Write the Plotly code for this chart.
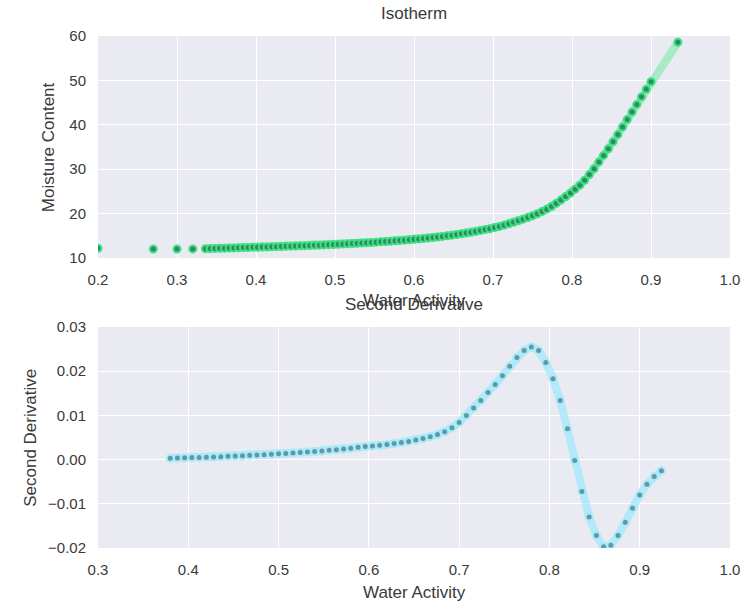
import plotly.graph_objects as go

# ---- Isotherm data (water activity vs moisture content) ----
iso_aw = [0.200, 0.270, 0.300, 0.320,
          0.336, 0.342, 0.348, 0.354, 0.360, 0.366, 0.372, 0.378, 0.384, 0.390,
          0.396, 0.402, 0.408, 0.414, 0.420, 0.426, 0.432, 0.438, 0.444, 0.450,
          0.456, 0.462, 0.468, 0.474, 0.480, 0.486, 0.492, 0.498, 0.504, 0.510,
          0.516, 0.522, 0.528, 0.534, 0.540, 0.546, 0.552, 0.558, 0.564, 0.570,
          0.576, 0.582, 0.588, 0.594, 0.600, 0.606, 0.612, 0.618, 0.624, 0.630,
          0.636, 0.642, 0.648, 0.654, 0.660, 0.666, 0.672, 0.678, 0.684, 0.690,
          0.696, 0.702, 0.708, 0.714, 0.720, 0.726, 0.732, 0.738, 0.744, 0.750,
          0.756, 0.762, 0.768, 0.774, 0.780, 0.786, 0.792, 0.798, 0.804, 0.810,
          0.816, 0.822, 0.828, 0.834, 0.840, 0.846, 0.852, 0.858, 0.864, 0.870,
          0.876, 0.882, 0.888, 0.894, 0.900,
          0.934]
iso_mc = [12.2, 12.0, 12.0, 12.05,
          12.10, 12.13, 12.16, 12.19, 12.22, 12.25, 12.28, 12.31, 12.34, 12.37,
          12.40, 12.43, 12.46, 12.49, 12.52, 12.55, 12.58, 12.62, 12.66, 12.70,
          12.74, 12.78, 12.82, 12.86, 12.90, 12.95, 13.00, 13.05, 13.10, 13.15,
          13.20, 13.26, 13.32, 13.38, 13.44, 13.50, 13.57, 13.64, 13.71, 13.78,
          13.86, 13.94, 14.02, 14.11, 14.20, 14.30, 14.40, 14.51, 14.62, 14.74,
          14.87, 15.00, 15.14, 15.29, 15.45, 15.62, 15.80, 15.99, 16.19, 16.40,
          16.60, 16.85, 17.10, 17.40, 17.70, 18.05, 18.40, 18.75, 19.10, 19.50,
          19.95, 20.45, 21.00, 21.60, 22.30, 23.05, 23.85, 24.65, 25.50, 26.40,
          27.50, 28.80, 30.10, 31.60, 33.10, 34.60, 36.20, 37.80, 39.50, 41.20,
          42.90, 44.60, 46.30, 48.00, 49.70,
          58.6]

# ---- Second derivative data ----
d2_aw = [0.380, 0.388, 0.396, 0.404, 0.412, 0.420, 0.428, 0.436, 0.444, 0.452,
         0.460, 0.468, 0.476, 0.484, 0.492, 0.500, 0.508, 0.516, 0.524, 0.532,
         0.540, 0.548, 0.556, 0.564, 0.572, 0.580, 0.588, 0.596, 0.604, 0.612,
         0.620, 0.628, 0.636, 0.644, 0.652, 0.660, 0.668, 0.676, 0.684, 0.692,
         0.700, 0.708, 0.716, 0.724, 0.732, 0.740, 0.748, 0.756, 0.764, 0.772,
         0.780, 0.788, 0.796, 0.804, 0.812, 0.820, 0.828, 0.836, 0.844, 0.852,
         0.860, 0.868, 0.876, 0.884, 0.892, 0.900, 0.908, 0.916, 0.924]
d2_val = [0.00030, 0.00035, 0.00040, 0.00045, 0.00050, 0.00055, 0.00060, 0.00067, 0.00074, 0.00081,
          0.00088, 0.00096, 0.00104, 0.00112, 0.00121, 0.00130, 0.00140, 0.00150, 0.00160, 0.00171,
          0.00183, 0.00196, 0.00210, 0.00225, 0.00241, 0.00258, 0.00277, 0.00298, 0.00310, 0.00325,
          0.00342, 0.00362, 0.00385, 0.00412, 0.00443, 0.00478, 0.00520, 0.00570, 0.00630, 0.00720,
          0.00840, 0.01000, 0.01170, 0.01340, 0.01520, 0.01700, 0.01900, 0.02110, 0.02310, 0.02470,
          0.02550, 0.02470, 0.02200, 0.01830, 0.01340, 0.00700, -0.00020, -0.00720, -0.01300, -0.01720,
          -0.01970, -0.01940, -0.01720, -0.01420, -0.01100, -0.00800, -0.00560, -0.00380, -0.00250]

x_ticks_top = [0.2, 0.3, 0.4, 0.5, 0.6, 0.7, 0.8, 0.9, 1.0]
x_ticks_bot = [0.3, 0.4, 0.5, 0.6, 0.7, 0.8, 0.9, 1.0]
y_ticks_top = [10, 20, 30, 40, 50, 60]
y_ticks_bot = [-0.02, -0.01, 0.00, 0.01, 0.02, 0.03]
y_ticktext_bot = ["\u22120.02", "\u22120.01", "0.00", "0.01", "0.02", "0.03"]

FONT = "Liberation Sans, Arial, sans-serif"
TXT = "#3a3a3a"
BG = "#EAEAF2"

fig = go.Figure()

# top: glow line + markers
fig.add_trace(go.Scatter(x=iso_aw[4:], y=iso_mc[4:], mode="lines",
                         line=dict(color="rgba(110,235,160,0.55)", width=8),
                         xaxis="x", yaxis="y", hoverinfo="skip", showlegend=False))
fig.add_trace(go.Scatter(x=iso_aw, y=iso_mc, mode="markers",
                         marker=dict(size=7, color="#2E8A66",
                                     line=dict(color="#3FE07F", width=2)),
                         xaxis="x", yaxis="y", showlegend=False))

# bottom: glow line + markers
fig.add_trace(go.Scatter(x=d2_aw, y=d2_val, mode="lines",
                         line=dict(color="rgba(160,232,250,0.75)", width=8),
                         xaxis="x2", yaxis="y2", hoverinfo="skip", showlegend=False))
fig.add_trace(go.Scatter(x=d2_aw, y=d2_val, mode="markers",
                         marker=dict(size=7, color="#6496A6",
                                     line=dict(color="#A6ECF8", width=2)),
                         xaxis="x2", yaxis="y2", showlegend=False))

common_axis = dict(showgrid=True, gridcolor="white", gridwidth=1, zeroline=False,
                   showline=False, ticks="outside", ticklen=8, automargin=False,
                   tickcolor="rgba(0,0,0,0)",
                   tickfont=dict(family=FONT, size=15, color=TXT))

fig.update_layout(
    width=742, height=603,
    margin=dict(l=98, r=12, t=36, b=55),
    paper_bgcolor="white", plot_bgcolor=BG,
    font=dict(family=FONT, color=TXT),
    xaxis=dict(domain=[0, 1], anchor="y", range=[0.2, 1.0],
               tickvals=x_ticks_top, ticktext=[f"{v:.1f}" for v in x_ticks_top],
               **common_axis),
    yaxis=dict(domain=[0.5664, 1.0], anchor="x", range=[10, 60],
               tickvals=y_ticks_top, ticktext=[str(v) for v in y_ticks_top],
               **common_axis),
    xaxis2=dict(domain=[0, 1], anchor="y2", range=[0.3, 1.0],
                tickvals=x_ticks_bot, ticktext=[f"{v:.1f}" for v in x_ticks_bot],
                **common_axis),
    yaxis2=dict(domain=[0.0, 0.4316], anchor="x2", range=[-0.02, 0.03],
                tickvals=y_ticks_bot, ticktext=y_ticktext_bot,
                **common_axis),
)

def ann(text, x, y, size=17, angle=0):
    fig.add_annotation(text=text, xref="paper", yref="paper", x=x, y=y,
                       showarrow=False, textangle=angle,
                       font=dict(family=FONT, size=size, color=TXT),
                       xanchor="center", yanchor="middle")

ann("Isotherm", 0.5, 1.043)
ann("Water Activity", 0.5, 0.484)
ann("Second Derivative", 0.5, 0.475)
ann("Water Activity", 0.5, -0.086)
ann("Moisture Content", -0.079, 0.783, angle=-90)
ann("Second Derivative", -0.107, 0.216, angle=-90)

fig.write_html("out.html")
